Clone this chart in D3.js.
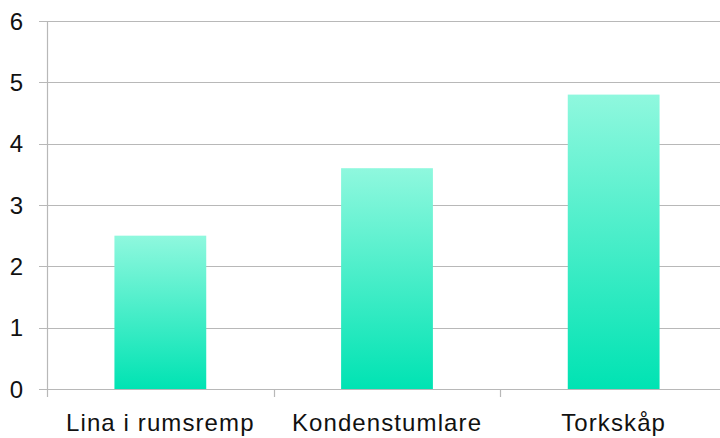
<!DOCTYPE html>
<html>
<head>
<meta charset="utf-8">
<script src="https://cdn.jsdelivr.net/npm/d3@7"></script>
<style>
  html, body { margin: 0; padding: 0; background: #fff; }
  svg { display: block; }
  text { font-family: "Liberation Sans", Arial, sans-serif; fill: #111; }
</style>
</head>
<body>
<svg id="chart" width="720" height="438"></svg>
<script>
// Drying methods and their values
const categories = ["Lina i rumsremp", "Kondenstumlare", "Torkskåp"];
const values = [2.5, 3.6, 4.8];
const yTicks = [0, 1, 2, 3, 4, 5, 6];

const svg = d3.select("#chart");
const margin = { top: 21, left: 47, bottom: 49 };
const plotW = 680;
const plotH = 438 - margin.top - margin.bottom;

const x = d3.scaleBand().domain(categories).range([0, plotW]).paddingInner(0.595).paddingOuter(0.2975);
const xBand = d3.scaleBand().domain(categories).range([0, plotW]);
const y = d3.scaleLinear().domain([0, 6]).range([plotH, 0]);

const defs = svg.append("defs");
const grad = defs.append("linearGradient")
  .attr("id", "barGrad").attr("x1", 0).attr("y1", 0).attr("x2", 0).attr("y2", 1);
grad.append("stop").attr("offset", "0%").attr("stop-color", "#8ff8de");
grad.append("stop").attr("offset", "100%").attr("stop-color", "#00e3b3");

const g = svg.append("g").attr("transform", `translate(${margin.left},${margin.top})`);

// horizontal gridlines with outer tick stubs
g.append("g").selectAll("line").data(yTicks).join("line")
  .attr("x1", -8).attr("x2", plotW)
  .attr("y1", d => Math.round(y(d)) + 0.5).attr("y2", d => Math.round(y(d)) + 0.5)
  .attr("stroke", "#b8b8b8").attr("stroke-width", 1.2);

// y axis line
g.append("line")
  .attr("x1", 0.5).attr("x2", 0.5).attr("y1", 0).attr("y2", plotH + 8)
  .attr("stroke", "#b8b8b8").attr("stroke-width", 1.2);

// category separator ticks
g.append("g").selectAll("line").data(categories.slice(1)).join("line")
  .attr("x1", d => Math.round(xBand(d)) + 0.5).attr("x2", d => Math.round(xBand(d)) + 0.5)
  .attr("y1", plotH).attr("y2", plotH + 8)
  .attr("stroke", "#b8b8b8").attr("stroke-width", 1.2);

// bars
g.append("g").selectAll("rect").data(values).join("rect")
  .attr("x", (d, i) => x(categories[i]))
  .attr("width", x.bandwidth())
  .attr("y", d => y(d))
  .attr("height", d => plotH - y(d))
  .attr("fill", "url(#barGrad)");

// y tick labels
g.append("g").selectAll("text").data(yTicks).join("text")
  .attr("x", -24).attr("y", d => y(d))
  .attr("dy", "0.36em")
  .attr("text-anchor", "end")
  .attr("font-size", 24)
  .text(d => d);

// category labels
g.append("g").selectAll("text").data(categories).join("text")
  .attr("x", d => xBand(d) + xBand.bandwidth() / 2)
  .attr("y", plotH + 42)
  .attr("text-anchor", "middle")
  .attr("font-size", 24)
  .attr("letter-spacing", 1.1)
  .text(d => d);
</script>
</body>
</html>
